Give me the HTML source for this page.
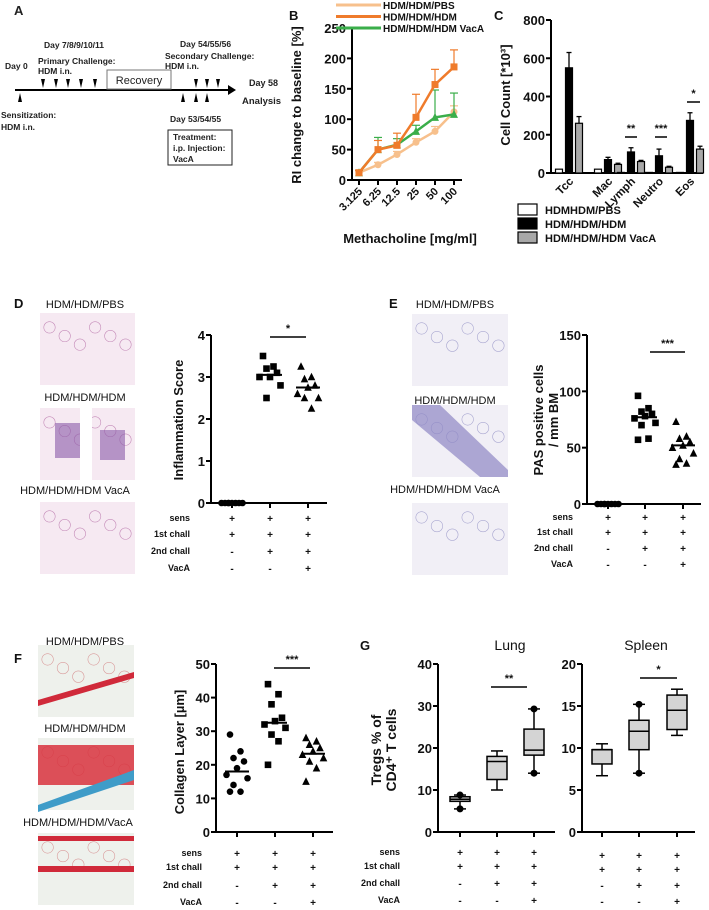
<!DOCTYPE html>
<html><head><meta charset="utf-8"><style>
body{margin:0;background:#fff}
svg{display:block;font-family:"Liberation Sans",Arial,sans-serif}
</style></head><body>
<svg id="fig" width="709" height="910" viewBox="0 0 709 910" xmlns="http://www.w3.org/2000/svg">
<g font-size="8.5" font-weight="bold" fill="#222">
<text x="14" y="15" font-size="13">A</text>
<line x1="15" y1="90" x2="228" y2="90" stroke="#000" stroke-width="2"/>
<polygon points="228,85 236,90 228,95" fill="#000"/>
<rect x="107" y="70" width="64" height="19" fill="#fff" stroke="#777"/>
<text x="139" y="84" text-anchor="middle" font-size="11" font-weight="normal">Recovery</text>
<g fill="#000">
<polygon points="41,79 45,79 43,88"/><polygon points="54,79 58,79 56,88"/><polygon points="66,79 70,79 68,88"/><polygon points="79,79 83,79 81,88"/><polygon points="93,79 97,79 95,88"/>
<polygon points="194,79 198,79 196,88"/><polygon points="205,79 209,79 207,88"/><polygon points="216,79 220,79 218,88"/>
<polygon points="18,102 22,102 20,93"/><polygon points="181,102 185,102 183,93"/><polygon points="194,102 198,102 196,93"/><polygon points="205,102 209,102 207,93"/>
</g>
<text x="5" y="69">Day 0</text>
<text x="44" y="48">Day 7/8/9/10/11</text>
<text x="38" y="64">Primary Challenge:</text>
<text x="38" y="74">HDM i.n.</text>
<text x="180" y="47">Day 54/55/56</text>
<text x="165" y="59">Secondary Challenge:</text>
<text x="165" y="69">HDM i.n.</text>
<text x="249" y="86" font-size="9">Day 58</text>
<text x="242" y="104" font-size="9.5">Analysis</text>
<text x="1" y="118">Sensitization:</text>
<text x="1" y="130">HDM i.n.</text>
<text x="170" y="122">Day 53/54/55</text>
<rect x="168" y="130" width="64" height="35" fill="#fff" stroke="#222"/>
<text x="173" y="140">Treatment:</text><text x="173" y="151">i.p. Injection:</text><text x="173" y="162">VacA</text>
</g>
<g id="dyn"></g>
</svg>
<script>
const NS='http://www.w3.org/2000/svg';
const root=document.getElementById('dyn');
function mk(parent,tag,attrs,name){
  const el=document.createElementNS(NS,tag);
  for(const k in attrs) el.setAttribute(k,attrs[k]);
  
  
  parent.appendChild(el);return el;
}
function txt(parent,x,y,s,size,name,extra){
  const t=mk(parent,'text',Object.assign({x:x,y:y,'font-size':size,'font-weight':'bold',fill:'#111'},extra||{}),name);
  t.textContent=s;return t;
}
function yAxis(g,x0,y0,yTop,xEnd,ticks,sy,name,fs){
  mk(g,'line',{x1:x0,y1:y0,x2:x0,y2:yTop,stroke:'#000','stroke-width':2},name+'-y-axis');
  mk(g,'line',{x1:x0,y1:y0,x2:xEnd,y2:y0,stroke:'#000','stroke-width':2},name+'-x-axis');
  ticks.forEach(v=>{
    mk(g,'line',{x1:x0-5,y1:sy(v),x2:x0,y2:sy(v),stroke:'#000','stroke-width':2},name+'-y-tick');
    txt(g,x0-6,sy(v)+5,String(v),fs||13,name+'-y-tick-label',{'text-anchor':'end'});
  });
}
function marker(g,shape,x,y,s,fill,name){
  if(shape==='circle') return mk(g,'circle',{cx:x,cy:y,r:s,fill:fill},name);
  if(shape==='square') return mk(g,'rect',{x:x-s,y:y-s,width:2*s,height:2*s,fill:fill},name);
  return mk(g,'polygon',{points:`${x-s-0.5},${y+s} ${x+s+0.5},${y+s} ${x},${y-s-1}`,fill:fill},name);
}
function table(g,xs,labelX,rowsY,name){
  const labels=['sens','1st chall','2nd chall','VacA'];
  const signs=[['+','+','+'],['+','+','+'],['-','+','+'],['-','-','+']];
  labels.forEach((l,r)=>{
    txt(g,labelX,rowsY[r],l,9,name+'-row-label',{'text-anchor':'end'});
    signs[r].forEach((s,c)=>txt(g,xs[c],rowsY[r]+1,s,10,name+'-sign',{'text-anchor':'middle'}));
  });
}
function yTitle(g,x,y,lines,name,size,gap){
  const t=mk(g,'text',{transform:`translate(${x},${y}) rotate(-90)`,'text-anchor':'middle','font-size':size||13,'font-weight':'bold',fill:'#111'},name);
  lines.forEach((l,i)=>{const ts=document.createElementNS(NS,'tspan');ts.setAttribute('x',0);ts.setAttribute('dy',i?(gap||16):0);ts.textContent=l;t.appendChild(ts);});
}
function sig(g,x1,x2,y,stars,name){
  mk(g,'line',{x1:x1,y1:y,x2:x2,y2:y,stroke:'#000','stroke-width':1.5},name+'-bar');
  txt(g,(x1+x2)/2,y-5,stars,11,name+'-stars',{'text-anchor':'middle'});
}
function histo(g,x,y,w,h,kind,name){
  const grp=mk(g,'g',{},name);
  const pal={he:['#f6e9f2','#c48ab8','#b55aa5'],pas:['#f1eff6','#a8a6d0','#7a6fb0'],tri:['#eef1ec','#d99a9a','#d43040']}[kind];
  mk(grp,'rect',{x:x,y:y,width:w,height:h,fill:pal[0]},name+'-bg');
  for(let i=0;i<6;i++) mk(grp,'circle',{cx:x+w*(0.1+0.16*i),cy:y+h*(0.2+0.12*(i%3)),r:w*0.06,fill:'none',stroke:pal[1],'stroke-width':0.6},name+'-alveolus');
  return grp;
}

/* ---------- Panel B ---------- */
const bDoses=['3.125','6.25','12.5','25','50','100'];
const bPBS=[12,25,42,62,80,112];
const bHDM=[12,50,57,103,157,186];
const bVacA=[12,50,58,80,103,108];
const bErrHDM=[4,15,20,38,25,28];
const bErrVacA=[4,20,10,10,45,35];
const bErrPBS=[3,4,5,6,8,10];
{
  const g=mk(root,'g',{},'panel-b-methacholine-chart');
  txt(g,289,20,'B',13,'panel-label-b');
  const sy=v=>180-v*152/250, sx=i=>359+i*19;
  yAxis(g,352,180,27,462,[0,50,100,150,200,250],sy,'b',13);
  bDoses.forEach((d,i)=>{
    mk(g,'line',{x1:sx(i),y1:180,x2:sx(i),y2:185,stroke:'#000','stroke-width':2},'b-x-tick');
    txt(g,sx(i)+4,192,d,11,'b-x-tick-label',{'text-anchor':'end',transform:`rotate(-45 ${sx(i)+4} 192)`});
  });
  yTitle(g,301,105,['RI change to baseline [%]'],'b-y-axis-title',13);
  txt(g,410,243,'Methacholine [mg/ml]',13,'b-x-axis-title',{'text-anchor':'middle'});
  const series=[[bPBS,bErrPBS,'#f7c08c','circle','pbs'],[bVacA,bErrVacA,'#3aae4a','triangle','vaca'],[bHDM,bErrHDM,'#ef7b2b','square','hdm']];
  series.forEach(([vals,err,col,shape,nm])=>{
    vals.forEach((v,i)=>{
      mk(g,'line',{x1:sx(i),y1:sy(v),x2:sx(i),y2:sy(v+err[i]),stroke:col,'stroke-width':1.2},'b-errorbar-'+nm);
      mk(g,'line',{x1:sx(i)-4,y1:sy(v+err[i]),x2:sx(i)+4,y2:sy(v+err[i]),stroke:col,'stroke-width':1.2},'b-errorcap-'+nm);
    });
    mk(g,'polyline',{points:vals.map((v,i)=>sx(i)+','+sy(v)).join(' '),fill:'none',stroke:col,'stroke-width':2.5},'b-line-'+nm);
    vals.forEach((v,i)=>marker(g,shape,sx(i),sy(v),3.5,col,'b-point-'+nm));
  });
  const leg=[['HDM/HDM/PBS','#f7c08c'],['HDM/HDM/HDM','#ef7b2b'],['HDM/HDM/HDM VacA','#3aae4a']];
  leg.forEach(([l,c],i)=>{
    const y=5+i*11.5;
    mk(g,'line',{x1:336,y1:y,x2:381,y2:y,stroke:c,'stroke-width':3},'b-legend-swatch');
    txt(g,383,y+4,l,10,'b-legend-entry');
  });
}

/* ---------- Panel C ---------- */
const cCats=['Tcc','Mac','Lymph','Neutro','Eos'];
const cPBS=[20,20,3,3,3];
const cHDM=[550,70,110,90,275];
const cVacA=[260,45,60,30,125];
const cErrHDM=[80,12,22,35,40];
const cErrVacA=[35,6,6,5,15];
{
  const g=mk(root,'g',{},'panel-c-cell-count-chart');
  txt(g,494,20,'C',13,'panel-label-c');
  const sy=v=>173-v*153/800;
  const cx=[569,608,631,659,690];
  yAxis(g,551,173,20,703,[0,200,400,600,800],sy,'c',13);
  yTitle(g,510,95,['Cell Count [*10³]'],'c-y-axis-title',13);
  cCats.forEach((c,i)=>{
    txt(g,cx[i]+5,182,c,11.5,'c-x-tick-label',{'text-anchor':'end',transform:`rotate(-45 ${cx[i]+5} 182)`});
    const sets=[[cPBS,null,'#fff',-10],[cHDM,cErrHDM,'#000',0],[cVacA,cErrVacA,'#a8a8a8',10]];
    sets.forEach(([vals,err,col,off])=>{
      const x=cx[i]+off-3.5;
      if(err){
        mk(g,'line',{x1:x+3.5,y1:sy(vals[i]),x2:x+3.5,y2:sy(vals[i]+err[i]),stroke:'#000','stroke-width':1.3},'c-errorbar');
        mk(g,'line',{x1:x+1,y1:sy(vals[i]+err[i]),x2:x+6,y2:sy(vals[i]+err[i]),stroke:'#000','stroke-width':1.3},'c-errorcap');
      }
      mk(g,'rect',{x:x,y:sy(vals[i]),width:7,height:173-sy(vals[i]),fill:col,stroke:'#000','stroke-width':1.2},'c-bar-'+cCats[i].toLowerCase());
    });
  });
  sig(g,625,637,137,'**','c-sig-lymph');
  sig(g,655,667,137,'***','c-sig-neutro');
  sig(g,687,700,102,'*','c-sig-eos');
  const leg=[['HDMHDM/PBS','#fff'],['HDM/HDM/HDM','#000'],['HDM/HDM/HDM VacA','#a8a8a8']];
  leg.forEach(([l,c],i)=>{
    const y=204+i*14;
    mk(g,'rect',{x:518,y:y,width:19,height:11,fill:c,stroke:'#000','stroke-width':1.2},'c-legend-swatch');
    txt(g,545,y+10,l,11,'c-legend-entry');
  });
}

/* ---------- Scatter panels D, E, F ---------- */
const dPBS=[0,0,0,0,0,0,0,0];
const dHDM=[3.5,3.25,3.2,3.1,3.0,3.0,2.8,2.5];
const dVacA=[3.25,3.0,2.95,2.8,2.75,2.6,2.5,2.5,2.25];
const dMeans=[0,3.05,2.75];
const eePBS=[0,0,0,0,0,0,0,0];
const eHDM=[96,85,82,80,78,76,72,70,58,57];
const eVacA=[73,60,58,55,52,50,45,40,36,35];
const eMeans=[0,77,52];
const fPBS=[29,24,22,21,19,17,16,14,12,12];
const fHDM=[44,41,38,34,33,32,31,29,27,20];
const fVacA=[28,27,26,25,24,23,22,21,19,15];
const fMeans=[18,32.5,23.3];
function scatterPanel(o){
  const g=mk(root,'g',{},o.name);
  const sy=v=>o.y0-(v/o.max)*(o.y0-o.yTop);
  yAxis(g,o.x0,o.y0,o.yTop,o.xEnd,o.ticks,sy,o.key,13);
  o.xs.forEach(x=>mk(g,'line',{x1:x,y1:o.y0,x2:x,y2:o.y0+5,stroke:'#000','stroke-width':2},o.key+'-x-tick'));
  const shapes=['circle','square','triangle'];
  const jit=[-2,1,-1,2,0,-3,3,-1,1,-2];
  o.groups.forEach((vals,gi)=>{
    vals.forEach((v,i)=>marker(g,shapes[gi],o.xs[gi]+jit[i%10]*3.5,sy(v),3.3,'#000',o.key+'-point-group'+(gi+1)));
    mk(g,'line',{x1:o.xs[gi]-12,y1:sy(o.means[gi]),x2:o.xs[gi]+12,y2:sy(o.means[gi]),stroke:'#000','stroke-width':2},o.key+'-mean-line');
  });
  sig(g,o.sig[0],o.sig[1],o.sig[2],o.sig[3],o.key+'-sig');
  yTitle(g,o.tx,o.ty,o.title,o.key+'-y-axis-title',13,15);
  table(g,o.xs,o.labelX,o.rows,o.key+'-table');
  return g;
}
{
  const g=mk(root,'g',{},'panel-d-images');
  txt(g,14,308,'D',13,'panel-label-d');
  [['HDM/HDM/PBS',85,308,313],['HDM/HDM/HDM',85,401,408],['HDM/HDM/HDM VacA',75,494,502]].forEach(([l,x,y,iy])=>{
    txt(g,x,y,l,11,'d-image-label',{'text-anchor':'middle','font-weight':'normal'});
    histo(g,40,iy,95,72,'he','d-histology-image');
  });
  mk(g,'rect',{x:55,y:423,width:25,height:35,fill:'#8a5aa8',opacity:0.6},'d-infiltrate');
  mk(g,'rect',{x:100,y:430,width:25,height:30,fill:'#8a5aa8',opacity:0.6},'d-infiltrate');
  mk(g,'rect',{x:80,y:408,width:12,height:72,fill:'#fff'},'d-airway-lumen');
}
scatterPanel({name:'panel-d-inflammation-chart',key:'d',x0:211,y0:503,yTop:335,xEnd:327,max:4,ticks:[0,1,2,3,4],xs:[232,270,308],groups:[dPBS,dHDM,dVacA],means:dMeans,sig:[270,306,337,'*'],title:['Inflammation Score'],tx:183,ty:420,labelX:190,rows:[521,537,554,571]});
{
  const g=mk(root,'g',{},'panel-e-images');
  txt(g,389,308,'E',13,'panel-label-e');
  [['HDM/HDM/PBS',455,308,314],['HDM/HDM/HDM',455,404,405],['HDM/HDM/HDM VacA',445,493,503]].forEach(([l,x,y,iy])=>{
    txt(g,x,y,l,11,'e-image-label',{'text-anchor':'middle','font-weight':'normal'});
    histo(g,412,iy,96,72,'pas','e-histology-image');
  });
  mk(g,'polygon',{points:'412,405 440,405 508,470 508,477 480,477 412,420',fill:'#8f87c4',opacity:0.7},'e-airway-wall');
}
scatterPanel({name:'panel-e-pas-chart',key:'e',x0:587,y0:504,yTop:335,xEnd:701,max:150,ticks:[0,50,100,150],xs:[608,645,683],groups:[eePBS,eHDM,eVacA],means:eMeans,sig:[650,685,352,'***'],title:['PAS positive cells','/ mm BM'],tx:543,ty:420,labelX:573,rows:[520,535,551,567]});
{
  const g=mk(root,'g',{},'panel-f-images');
  txt(g,14,663,'F',13,'panel-label-f');
  [['HDM/HDM/PBS',85,645,645],['HDM/HDM/HDM',85,732,738],['HDM/HDM/HDM/VacA',78,826,833]].forEach(([l,x,y,iy])=>{
    txt(g,x,y,l,11,'f-image-label',{'text-anchor':'middle','font-weight':'normal'});
    histo(g,38,iy,96,72,'tri','f-histology-image');
  });
  mk(g,'polygon',{points:'38,700 134,672 134,678 38,706',fill:'#d02a3a'},'f-airway-wall');
  mk(g,'rect',{x:38,y:745,width:96,height:40,fill:'#d8323e',opacity:0.85},'f-blood');
  mk(g,'polygon',{points:'38,805 134,770 134,780 38,812',fill:'#3f9cc8'},'f-collagen');
  mk(g,'rect',{x:38,y:836,width:96,height:5,fill:'#d02a3a'},'f-airway-wall');
  mk(g,'rect',{x:38,y:866,width:96,height:6,fill:'#d02a3a'},'f-airway-wall');
}
scatterPanel({name:'panel-f-collagen-chart',key:'f',x0:216,y0:832,yTop:664,xEnd:333,max:50,ticks:[0,10,20,30,40,50],xs:[237,275,313],groups:[fPBS,fHDM,fVacA],means:fMeans,sig:[274,310,668,'***'],title:['Collagen Layer [µm]'],tx:184,ty:752,labelX:202,rows:[856,870,888,905]});

/* ---------- Panel G boxplots ---------- */
const gLung=[[5.5,7.3,7.8,8.4,8.8],[10,12.5,16.8,18,19.3],[14,18.3,19.5,24.5,29.3]];
const gSpleen=[[6.7,8.1,9.8,9.8,10.5],[7,9.8,12,13.3,15.2],[11.5,12.2,14.5,16.3,17]];
const gLungDots=[[5.5,8.8],[],[14,29.3]];
const gSpleenDots=[[],[7,15.2],[]];
function boxPanel(g,key,x0,xs,xEnd,max,ticks,data,dots){
  const sy=v=>832-(v/max)*168;
  yAxis(g,x0,832,664,xEnd,ticks,sy,key,13);
  xs.forEach((x,i)=>{
    const [mn,q1,md,q3,mx]=data[i];
    mk(g,'line',{x1:x,y1:832,x2:x,y2:837,stroke:'#000','stroke-width':2},key+'-x-tick');
    mk(g,'line',{x1:x,y1:sy(mn),x2:x,y2:sy(mx),stroke:'#000','stroke-width':1.5},key+'-whisker');
    mk(g,'line',{x1:x-6,y1:sy(mn),x2:x+6,y2:sy(mn),stroke:'#000','stroke-width':1.5},key+'-whisker-cap');
    mk(g,'line',{x1:x-6,y1:sy(mx),x2:x+6,y2:sy(mx),stroke:'#000','stroke-width':1.5},key+'-whisker-cap');
    mk(g,'rect',{x:x-10,y:sy(q3),width:20,height:sy(q1)-sy(q3),fill:'#d4d4d4',stroke:'#000','stroke-width':1.5},key+'-box-group'+(i+1));
    mk(g,'line',{x1:x-10,y1:sy(md),x2:x+10,y2:sy(md),stroke:'#000','stroke-width':1.5},key+'-median');
    dots[i].forEach(v=>mk(g,'circle',{cx:x,cy:sy(v),r:3.5,fill:'#000'},key+'-outlier'));
  });
}
{
  const g=mk(root,'g',{},'panel-g-treg-chart');
  txt(g,360,650,'G',13,'panel-label-g');
  txt(g,510,650,'Lung',14,'g-lung-title',{'text-anchor':'middle','font-weight':'normal'});
  txt(g,646,650,'Spleen',14,'g-spleen-title',{'text-anchor':'middle','font-weight':'normal'});
  boxPanel(g,'g-lung',438,[460,497,534],555,40,[0,10,20,30,40],gLung,gLungDots);
  boxPanel(g,'g-spleen',582,[602,639,677],695,20,[0,5,10,15,20],gSpleen,gSpleenDots);
  sig(g,491,527,687,'**','g-lung-sig');
  sig(g,640,677,678,'*','g-spleen-sig');
  yTitle(g,381,750,['Tregs % of','CD4⁺ T cells'],'g-y-axis-title',14,15);
  table(g,[460,497,534],400,[855,869,886,903],'g-lung-table');
  const s=[['+','+','+'],['+','+','+'],['-','+','+'],['-','-','+']];
  const ry=[859,873,889,905];
  s.forEach((row,r)=>row.forEach((v,c)=>txt(g,[602,639,677][c],ry[r],v,10,'g-spleen-sign',{'text-anchor':'middle'})));
}
</script>
</body></html>
